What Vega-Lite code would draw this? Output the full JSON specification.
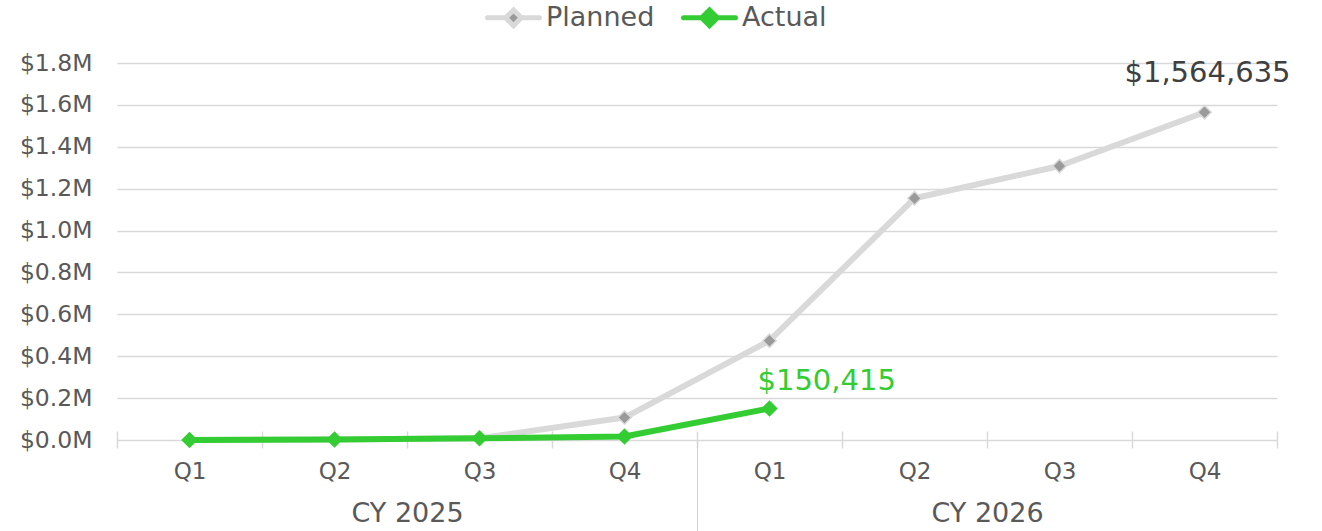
{
  "$schema": "https://vega.github.io/schema/vega-lite/v6.json",
  "width": 1160,
  "height": 377,
  "autosize": "none",
  "padding": {"left": 117, "top": 63, "right": 45, "bottom": 91},
  "background": "white",
  "config": {"font": "DejaVu Sans", "view": {"stroke": null}},
  "data": {
    "values": [
      {"year": "CY 2025", "quarter": "Q1", "period": "CY 2025 Q1", "series": "Planned", "value": 0},
      {"year": "CY 2025", "quarter": "Q2", "period": "CY 2025 Q2", "series": "Planned", "value": 2000},
      {"year": "CY 2025", "quarter": "Q3", "period": "CY 2025 Q3", "series": "Planned", "value": 8000},
      {"year": "CY 2025", "quarter": "Q4", "period": "CY 2025 Q4", "series": "Planned", "value": 107000},
      {"year": "CY 2026", "quarter": "Q1", "period": "CY 2026 Q1", "series": "Planned", "value": 474000},
      {"year": "CY 2026", "quarter": "Q2", "period": "CY 2026 Q2", "series": "Planned", "value": 1154000},
      {"year": "CY 2026", "quarter": "Q3", "period": "CY 2026 Q3", "series": "Planned", "value": 1308000},
      {"year": "CY 2026", "quarter": "Q4", "period": "CY 2026 Q4", "series": "Planned", "value": 1564635},
      {"year": "CY 2025", "quarter": "Q1", "period": "CY 2025 Q1", "series": "Actual", "value": 0},
      {"year": "CY 2025", "quarter": "Q2", "period": "CY 2025 Q2", "series": "Actual", "value": 2000},
      {"year": "CY 2025", "quarter": "Q3", "period": "CY 2025 Q3", "series": "Actual", "value": 8000},
      {"year": "CY 2025", "quarter": "Q4", "period": "CY 2025 Q4", "series": "Actual", "value": 17000},
      {"year": "CY 2026", "quarter": "Q1", "period": "CY 2026 Q1", "series": "Actual", "value": 150415}
    ]
  },
  "layer": [
    {
      "encoding": {
        "x": {
          "field": "period",
          "type": "nominal",
          "sort": "ascending",
          "scale": {"type": "band", "paddingInner": 0, "paddingOuter": 0},
          "axis": {
            "orient": "bottom",
            "title": null,
            "labelExpr": "slice(datum.label, -2)",
            "tickBand": "extent",
            "domain": false,
            "ticks": true,
            "tickSize": 17,
            "offset": -9,
            "tickColor": "#d9d9d9",
            "tickWidth": 1.5,
            "labelFontSize": 23,
            "labelColor": "#595959",
            "labelPadding": 12,
            "labelAngle": 0,
            "grid": false
          }
        },
        "y": {
          "field": "value",
          "type": "quantitative",
          "scale": {"domain": [0, 1800000], "nice": false, "zero": true},
          "axis": {
            "title": null,
            "values": [0, 200000, 400000, 600000, 800000, 1000000, 1200000, 1400000, 1600000, 1800000],
            "labelExpr": "'$' + format(datum.value / 1000000, '.1f') + 'M'",
            "domain": false,
            "ticks": false,
            "grid": true,
            "gridColor": "#d9d9d9",
            "gridWidth": 1.5,
            "labelFontSize": 23.5,
            "labelColor": "#595959",
            "labelPadding": 25
          }
        }
      },
      "layer": [
        {
          "transform": [{"filter": "datum.series === 'Planned'"}],
          "mark": {"type": "line", "strokeWidth": 6, "strokeJoin": "round"},
          "encoding": {
            "color": {
              "field": "series",
              "type": "nominal",
              "scale": {"domain": ["Planned", "Actual"], "range": ["#d9d9d9", "#33cc33"]},
              "legend": {
                "orient": "none",
                "legendX": 368,
                "legendY": -74,
                "direction": "horizontal",
                "title": null,
                "symbolType": "M-1,0L-0.3,0M0.3,0L1,0M0,-0.3L0.3,0L0,0.3L-0.3,0Z",
                "symbolSize": 2704,
                "symbolStrokeWidth": 5,
                "labelFontSize": 27,
                "labelColor": "#595959",
                "labelOffset": 4,
                "columnPadding": 18,
                "padding": 0,
                "encode": {
                  "symbols": {
                    "update": {
                      "fill": {"signal": "datum.value === 'Planned' ? '#9a9a9a' : '#33cc33'"},
                      "stroke": {"signal": "datum.value === 'Planned' ? '#d9d9d9' : '#33cc33'"},
                      "strokeCap": {"value": "round"},
                      "opacity": {"value": 1}
                    }
                  }
                }
              }
            }
          }
        },
        {
          "transform": [{"filter": "datum.series === 'Planned'"}],
          "mark": {"type": "point", "shape": "diamond", "filled": true, "fill": "#9a9a9a", "stroke": "#d9d9d9", "strokeWidth": 1.5, "size": 180, "opacity": 1}
        },
        {
          "transform": [{"filter": "datum.series === 'Actual'"}],
          "mark": {"type": "line", "strokeWidth": 6, "strokeJoin": "round"},
          "encoding": {
            "color": {"field": "series", "type": "nominal"}
          }
        },
        {
          "transform": [{"filter": "datum.series === 'Actual'"}],
          "mark": {"type": "point", "shape": "diamond", "filled": true, "fill": "#33cc33", "size": 270, "opacity": 1}
        },
        {
          "transform": [{"filter": "datum.series === 'Planned' && datum.period === 'CY 2026 Q4'"}],
          "mark": {"type": "text", "fontSize": 29, "color": "#404040", "align": "center", "baseline": "alphabetic", "dx": 3, "dy": -30},
          "encoding": {"text": {"field": "value", "type": "quantitative", "format": "$,.0f"}}
        },
        {
          "transform": [{"filter": "datum.series === 'Actual' && datum.period === 'CY 2026 Q1'"}],
          "mark": {"type": "text", "fontSize": 29, "color": "#33cc33", "align": "left", "baseline": "alphabetic", "dx": -12, "dy": -18},
          "encoding": {"text": {"field": "value", "type": "quantitative", "format": "$,.0f"}}
        }
      ]
    },
    {
      "mark": {"type": "point", "opacity": 0},
      "encoding": {
        "x": {
          "field": "year",
          "type": "nominal",
          "scale": {"type": "band", "paddingInner": 0, "paddingOuter": 0},
          "axis": {
            "orient": "bottom",
            "title": null,
            "tickBand": "extent",
            "domain": false,
            "ticks": true,
            "tickSize": 91,
            "tickColor": "#d0d0d0",
            "tickWidth": 1,
            "tickOpacity": {"condition": {"test": "datum.value === 'CY 2025' && datum.index < 0.25", "value": 1}, "value": 0},
            "labelFontSize": 27,
            "labelColor": "#595959",
            "labelPadding": -31,
            "labelAngle": 0,
            "grid": false
          }
        }
      }
    }
  ],
  "resolve": {"scale": {"x": "independent"}}
}
